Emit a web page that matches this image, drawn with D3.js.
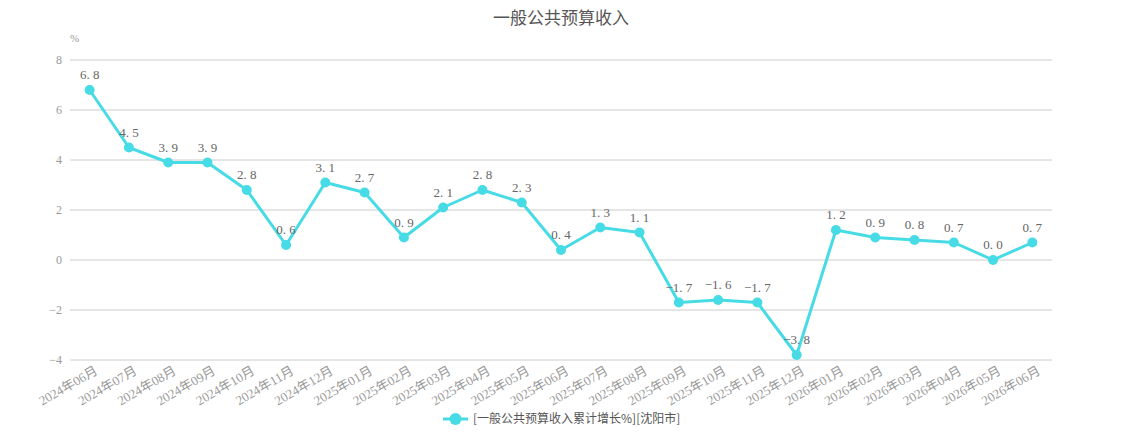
<!DOCTYPE html>
<html>
<head>
<meta charset="utf-8">
<script src="https://cdn.jsdelivr.net/npm/d3@7"></script>
<style>
  body { margin: 0; background: #fff; }
  svg { display: block; }
</style>
</head>
<body>
<div id="chart"></div>
<script>
// data
var months = ["2024年06月", "2024年07月", "2024年08月", "2024年09月", "2024年10月", "2024年11月", "2024年12月",
  "2025年01月", "2025年02月", "2025年03月", "2025年04月", "2025年05月", "2025年06月", "2025年07月",
  "2025年08月", "2025年09月", "2025年10月", "2025年11月", "2025年12月", "2026年01月", "2026年02月",
  "2026年03月", "2026年04月", "2026年05月", "2026年06月"];
var growth = [6.8, 4.5, 3.9, 3.9, 2.8, 0.6, 3.1, 2.7, 0.9, 2.1, 2.8, 2.3, 0.4, 1.3,
  1.1, -1.7, -1.6, -1.7, -3.8, 1.2, 0.9, 0.8, 0.7, 0.0, 0.7];
var yTicks = [-4, -2, 0, 2, 4, 6, 8];
var seriesName = "[一般公共预算收入累计增长%][沈阳市]";

var W = 1122, H = 440;
var margin = {top: 60, right: 70, bottom: 80, left: 70},
    width = W - margin.left - margin.right,
    height = H - margin.top - margin.bottom;
var color = "#47dbe6";
var serif = "'Liberation Serif', 'DejaVu Serif', 'Noto Sans CJK SC', serif";
var sans = "'Noto Sans CJK SC', 'Noto Sans', sans-serif";

var svg = d3.select("#chart").append("svg")
    .attr("width", W)
    .attr("height", H);

// title
svg.append("text")
  .attr("x", W / 2)
  .attr("y", 24)
  .attr("text-anchor", "middle")
  .style("font-family", sans)
  .style("font-size", "17px")
  .style("fill", "#555")
  .text("一般公共预算收入");

var g = svg.append("g")
  .attr("transform", "translate(" + margin.left + "," + margin.top + ")");

var x = d3.scaleBand()
  .domain(months)
  .range([0, width]);

var y = d3.scaleLinear()
  .domain([-4, 8])
  .range([height, 0]);

// grid lines
g.selectAll(".grid")
  .data(yTicks)
  .enter().append("line")
  .attr("x1", 0)
  .attr("x2", width)
  .attr("y1", d => y(d))
  .attr("y2", d => y(d))
  .attr("stroke", "#ccc")
  .attr("stroke-width", 1);

// y axis labels
var yAxis = g.append("g")
  .call(d3.axisLeft(y).tickValues(yTicks).tickSize(0).tickPadding(8).tickFormat(d => d < 0 ? "\u2212" + (-d) : d));
yAxis.select(".domain").remove();
yAxis.selectAll("text")
  .style("font-family", serif)
  .style("font-size", "12px")
  .style("fill", "#999");

g.append("text")
  .attr("x", 0)
  .attr("y", -18)
  .style("font-family", serif)
  .style("font-size", "11px")
  .style("fill", "#999")
  .text("%");

// x axis labels
var xAxis = g.append("g")
  .attr("transform", "translate(0," + height + ")")
  .call(d3.axisBottom(x).tickSize(0).tickPadding(0));
xAxis.select(".domain").remove();
xAxis.selectAll("text")
  .attr("text-anchor", "end")
  .attr("dy", null)
  .attr("transform", "translate(4,5) rotate(-30)")
  .attr("y", 0)
  .attr("dominant-baseline", "hanging")
  .style("font-family", serif)
  .style("font-size", "13px")
  .style("fill", "#999");

var cx = d => x(d) + x.bandwidth() / 2;

// line
var line = d3.line()
  .x((d, i) => cx(months[i]))
  .y(d => y(d));

g.append("path")
  .datum(growth)
  .attr("fill", "none")
  .attr("stroke", color)
  .attr("stroke-width", 3)
  .attr("stroke-linejoin", "round")
  .attr("d", line);

g.selectAll(".dot")
  .data(growth)
  .enter().append("circle")
  .attr("cx", (d, i) => cx(months[i]))
  .attr("cy", d => y(d))
  .attr("r", 5)
  .attr("fill", color);

// value labels
g.selectAll(".lbl")
  .data(growth)
  .enter().append("text")
  .attr("x", (d, i) => cx(months[i]))
  .attr("y", d => y(d) - 11)
  .attr("text-anchor", "middle")
  .style("font-family", serif)
  .style("font-size", "13px")
  .style("fill", "#666")
  .text(d => (d < 0 ? "\u2212" : "") + Math.abs(d).toFixed(1).replace(".", ". "));

// legend
var lg = svg.append("g").attr("transform", "translate(443,419)");
lg.append("line")
  .attr("x1", 0).attr("x2", 25)
  .attr("stroke", color)
  .attr("stroke-width", 3);
lg.append("circle")
  .attr("cx", 12.5)
  .attr("r", 6)
  .attr("fill", color);
lg.append("text")
  .attr("x", 30)
  .attr("dy", "0.35em")
  .style("font-family", sans)
  .style("font-size", "12px")
  .style("fill", "#555")
  .text(seriesName);
</script>
</body>
</html>
